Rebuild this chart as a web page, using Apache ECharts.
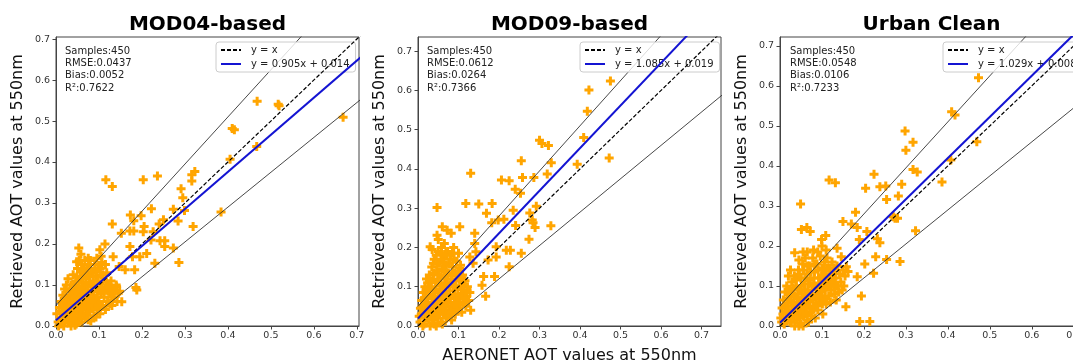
<!DOCTYPE html>
<html>
<head>
<meta charset="utf-8">
<script src="https://cdn.jsdelivr.net/npm/echarts@6/dist/echarts.min.js"></script>
<style>
html, body { margin: 0; padding: 0; background: #fff; }
#main { width: 1073px; height: 364px; }
</style>
</head>
<body>
<div id="main"></div>
<script>
// panel titles, stats and fits
var panelTitles = ['MOD04-based', 'MOD09-based', 'Urban Clean'];
var statLines = [
	['Samples:450', 'RMSE:0.0437', 'Bias:0.0052', 'R\u00b2:0.7622'],
	['Samples:450', 'RMSE:0.0612', 'Bias:0.0264', 'R\u00b2:0.7366'],
	['Samples:450', 'RMSE:0.0548', 'Bias:0.0106', 'R\u00b2:0.7233']
];
var fitSlope = [0.905, 1.085, 1.029];
var fitIntercept = [0.014, 0.019, 0.008];
var fitNames = ['y = 0.905x + 0.014', 'y = 1.085x + 0.019', 'y = 1.029x + 0.008'];
var eeConst = 0.05, eeSlope = 0.15;
var tickValues = [0, 0.1, 0.2, 0.3, 0.4, 0.5, 0.6, 0.7];
var axisMax = [[0.705, 0.705], [0.748, 0.736], [0.722, 0.722]];

// MOD04-based: [AERONET, retrieved]
var mod04Points = [
	[0.468,0.548],[0.517,0.541],[0.519,0.537],[0.668,0.509],[0.41,0.482],[0.415,0.479],[0.405,0.407],[0.467,0.438],
	[0.116,0.357],[0.131,0.34],[0.203,0.357],[0.236,0.366],[0.316,0.369],[0.323,0.377],[0.316,0.354],[0.291,0.335],
	[0.295,0.313],[0.299,0.282],[0.273,0.285],[0.384,0.278],[0.131,0.249],[0.173,0.271],[0.222,0.286],[0.24,0.249],
	[0.25,0.259],[0.284,0.256],[0.319,0.243],[0.198,0.269],[0.181,0.257],[0.205,0.243],[0.152,0.226],[0.172,0.232],
	[0.181,0.232],[0.203,0.23],[0.226,0.23],[0.221,0.21],[0.242,0.208],[0.253,0.194],[0.273,0.19],[0.253,0.208],
	[0.211,0.177],[0.195,0.169],[0.23,0.153],[0.286,0.155],[0.172,0.194],[0.178,0.169],[0.183,0.137],[0.161,0.137],
	[0.053,0.19],[0.048,0.157],[0.114,0.2],[0.102,0.186],[0.133,0.169],[0.147,0.145],[0.186,0.094],[0.188,0.088],
	[0.153,0.059],[0.145,0.08],[0.141,0.096],[0.129,0.08],
	[0.005,0.01],[0.01,0.02],[0.012,0.005],[0.015,0.035],[0.018,0.05],[0.02,0.012],[0.022,0.028],[0.025,0.065],
	[0.026,0.042],[0.028,0.008],[0.03,0.02],[0.03,0.055],[0.032,0.085],[0.034,0.035],[0.035,0.1],[0.036,0.07],
	[0.038,0.015],[0.04,0.045],[0.04,0.125],[0.042,0.06],[0.043,0.09],[0.045,0.03],[0.046,0.11],[0.047,0.005],
	[0.048,0.075],[0.05,0.05],[0.05,0.14],[0.052,0.02],[0.053,0.095],[0.054,0.16],[0.055,0.065],[0.056,0.035],
	[0.057,0.12],[0.058,0.08],[0.06,0.01],[0.06,0.15],[0.061,0.045],[0.062,0.105],[0.063,0.13],[0.064,0.06],
	[0.065,0.025],[0.066,0.09],[0.067,0.16],[0.068,0.07],[0.07,0.04],[0.07,0.115],[0.072,0.14],[0.073,0.055],
	[0.074,0.1],[0.075,0.015],[0.076,0.08],[0.078,0.125],[0.079,0.035],[0.08,0.16],[0.08,0.065],[0.082,0.095],
	[0.083,0.045],[0.085,0.13],[0.086,0.11],[0.087,0.075],[0.088,0.025],[0.09,0.15],[0.09,0.055],[0.092,0.09],
	[0.094,0.12],[0.095,0.04],[0.096,0.07],[0.098,0.14],[0.1,0.1],[0.1,0.06],[0.102,0.03],[0.104,0.125],
	[0.105,0.08],[0.107,0.155],[0.108,0.05],[0.11,0.11],[0.112,0.07],[0.114,0.09],[0.115,0.04],[0.118,0.13],
	[0.12,0.06],[0.122,0.1],[0.125,0.08],[0.128,0.11],[0.13,0.05],[0.133,0.09],[0.135,0.07],[0.14,0.1],
	[0.142,0.06],[0.148,0.085],[0.002,0.03],[0.008,0.045],[0.012,0.06],[0.016,0.075],[0.02,0.09],[0.024,0.1],
	[0.028,0.115],[0.006,0.0],[0.018,0.0],[0.035,0.0],[0.044,0.002],[0.015,0.018],[0.025,0.03],[0.033,0.048],
	[0.041,0.022],[0.049,0.038],[0.057,0.052],[0.063,0.04],[0.071,0.028],[0.081,0.012],[0.093,0.022],[0.058,0.175],
	[0.075,0.165],[0.095,0.165],[0.115,0.15],[0.105,0.17],
	[0.015,0.045],[0.02,0.06],[0.023,0.075],[0.027,0.05],[0.031,0.065],[0.034,0.09],[0.037,0.055],[0.039,0.08],
	[0.041,0.1],[0.044,0.07],[0.046,0.085],[0.049,0.12],[0.051,0.065],[0.054,0.11],[0.056,0.09],[0.059,0.135],
	[0.061,0.075],[0.063,0.115],[0.066,0.14],[0.068,0.1],[0.071,0.085],[0.073,0.125],[0.076,0.15],[0.078,0.105],
	[0.081,0.14],[0.084,0.085],[0.087,0.12],[0.089,0.1],[0.091,0.065],[0.093,0.135],[0.097,0.11],[0.099,0.085],
	[0.103,0.14],[0.106,0.095],[0.109,0.125],[0.111,0.085],[0.117,0.11],[0.121,0.085],[0.126,0.095],[0.131,0.07],
	[0.022,0.015],[0.027,0.025],[0.033,0.01],[0.039,0.03],[0.043,0.015],[0.053,0.01],[0.058,0.025],[0.067,0.05],
	[0.077,0.05],[0.085,0.06],[0.097,0.05],[0.103,0.045],[0.117,0.05],[0.125,0.055],[0.138,0.085]
];

// MOD09-based
var mod09Points = [
	[0.475,0.624],[0.422,0.601],[0.418,0.547],[0.409,0.48],[0.472,0.428],[0.393,0.412],[0.3,0.473],[0.306,0.465],
	[0.322,0.46],[0.329,0.416],[0.255,0.421],[0.319,0.387],[0.13,0.389],[0.206,0.372],[0.225,0.37],[0.258,0.378],
	[0.286,0.378],[0.24,0.348],[0.253,0.338],[0.118,0.312],[0.15,0.311],[0.183,0.312],[0.047,0.302],[0.169,0.287],
	[0.182,0.263],[0.198,0.27],[0.212,0.272],[0.235,0.295],[0.241,0.256],[0.276,0.288],[0.282,0.27],[0.292,0.305],
	[0.284,0.263],[0.289,0.251],[0.328,0.255],[0.274,0.221],[0.255,0.185],[0.225,0.151],[0.218,0.193],[0.228,0.193],
	[0.193,0.202],[0.193,0.176],[0.173,0.168],[0.162,0.126],[0.158,0.104],[0.167,0.076],[0.189,0.126],[0.136,0.16],
	[0.103,0.253],[0.082,0.236],[0.072,0.244],[0.047,0.231],[0.06,0.253],[0.03,0.202],[0.14,0.236],[0.14,0.21],
	[0.143,0.189],[0.103,0.147],[0.128,0.176],
	[0.005,0.01],[0.008,0.03],[0.01,0.05],[0.012,0.0],[0.015,0.07],[0.018,0.02],[0.02,0.09],[0.022,0.04],
	[0.024,0.11],[0.025,0.06],[0.027,0.015],[0.028,0.13],[0.03,0.08],[0.032,0.035],[0.033,0.1],[0.034,0.15],
	[0.036,0.055],[0.038,0.12],[0.04,0.005],[0.04,0.17],[0.042,0.075],[0.043,0.095],[0.045,0.025],[0.046,0.14],
	[0.048,0.06],[0.05,0.11],[0.05,0.19],[0.052,0.04],[0.053,0.16],[0.055,0.085],[0.056,0.125],[0.057,0.01],
	[0.058,0.2],[0.06,0.065],[0.06,0.145],[0.062,0.1],[0.063,0.03],[0.064,0.175],[0.065,0.05],[0.066,0.12],
	[0.068,0.08],[0.07,0.155],[0.07,0.02],[0.072,0.11],[0.073,0.19],[0.074,0.06],[0.075,0.135],[0.076,0.04],
	[0.078,0.09],[0.08,0.17],[0.08,0.07],[0.082,0.12],[0.083,0.015],[0.085,0.15],[0.086,0.05],[0.087,0.1],
	[0.088,0.2],[0.09,0.08],[0.09,0.135],[0.092,0.03],[0.094,0.115],[0.095,0.165],[0.096,0.06],[0.098,0.095],
	[0.1,0.14],[0.1,0.045],[0.102,0.12],[0.104,0.075],[0.105,0.155],[0.107,0.1],[0.108,0.035],[0.11,0.13],
	[0.112,0.06],[0.114,0.09],[0.116,0.115],[0.118,0.05],[0.12,0.075],[0.122,0.1],[0.125,0.065],[0.128,0.085],
	[0.13,0.04],[0.003,0.025],[0.006,0.045],[0.009,0.065],[0.013,0.085],[0.017,0.1],[0.021,0.12],[0.015,0.005],
	[0.03,0.0],[0.045,0.0],[0.06,0.005],[0.02,0.03],[0.035,0.045],[0.047,0.035],[0.055,0.045],[0.067,0.035],
	[0.078,0.025],[0.093,0.045],[0.065,0.21],[0.045,0.18],[0.085,0.185],[0.1,0.185],[0.038,0.16],[0.05,0.22],
	[0.035,0.195],
	[0.015,0.04],[0.019,0.055],[0.023,0.075],[0.026,0.095],[0.029,0.045],[0.031,0.115],[0.034,0.07],[0.037,0.09],
	[0.039,0.135],[0.041,0.05],[0.044,0.11],[0.046,0.16],[0.049,0.085],[0.051,0.13],[0.054,0.07],[0.057,0.105],
	[0.059,0.17],[0.061,0.085],[0.064,0.14],[0.067,0.1],[0.069,0.185],[0.071,0.075],[0.073,0.13],[0.076,0.16],
	[0.079,0.105],[0.081,0.05],[0.084,0.13],[0.087,0.08],[0.089,0.17],[0.091,0.1],[0.093,0.06],[0.097,0.13],
	[0.099,0.075],[0.103,0.1],[0.106,0.125],[0.109,0.08],[0.113,0.105],[0.117,0.07],[0.121,0.09],[0.024,0.02],
	[0.029,0.03],[0.036,0.015],[0.041,0.035],[0.049,0.02],[0.054,0.03],[0.062,0.045],[0.069,0.05],[0.074,0.025],
	[0.084,0.035],[0.089,0.055],[0.097,0.04],[0.104,0.055],[0.063,0.16],[0.058,0.185],[0.079,0.18]
];

// Urban Clean
var urbanPoints = [
	[0.473,0.62],[0.409,0.535],[0.417,0.527],[0.469,0.46],[0.407,0.415],[0.298,0.487],[0.3,0.439],[0.317,0.459],
	[0.317,0.391],[0.327,0.385],[0.386,0.36],[0.323,0.238],[0.117,0.365],[0.132,0.358],[0.204,0.344],[0.224,0.379],
	[0.238,0.348],[0.252,0.35],[0.254,0.316],[0.282,0.325],[0.29,0.354],[0.049,0.305],[0.051,0.241],[0.064,0.246],
	[0.072,0.236],[0.15,0.261],[0.18,0.284],[0.17,0.255],[0.184,0.246],[0.207,0.236],[0.189,0.216],[0.232,0.218],
	[0.238,0.208],[0.27,0.273],[0.274,0.269],[0.28,0.269],[0.254,0.166],[0.228,0.173],[0.223,0.132],[0.286,0.161],
	[0.202,0.155],[0.184,0.123],[0.194,0.075],[0.157,0.048],[0.109,0.226],[0.099,0.216],[0.136,0.194],[0.035,0.183],
	[0.158,0.148],[0.162,0.136],[0.19,0.011],[0.214,0.011],[0.146,0.173],
	[0.004,0.01],[0.007,0.03],[0.01,0.005],[0.012,0.05],[0.015,0.02],[0.018,0.07],[0.02,0.04],[0.022,0.09],
	[0.024,0.01],[0.026,0.06],[0.028,0.11],[0.03,0.03],[0.032,0.08],[0.034,0.125],[0.036,0.05],[0.038,0.1],
	[0.04,0.015],[0.042,0.07],[0.044,0.14],[0.046,0.04],[0.048,0.09],[0.05,0.12],[0.05,0.005],[0.052,0.06],
	[0.054,0.155],[0.056,0.025],[0.058,0.105],[0.06,0.075],[0.06,0.17],[0.062,0.045],[0.064,0.13],[0.066,0.09],
	[0.068,0.01],[0.07,0.06],[0.07,0.15],[0.072,0.115],[0.074,0.035],[0.076,0.08],[0.078,0.17],[0.08,0.1],
	[0.08,0.05],[0.082,0.135],[0.084,0.02],[0.086,0.07],[0.088,0.155],[0.09,0.09],[0.09,0.04],[0.092,0.12],
	[0.094,0.06],[0.096,0.175],[0.098,0.1],[0.1,0.145],[0.1,0.075],[0.102,0.03],[0.104,0.115],[0.106,0.16],
	[0.108,0.09],[0.11,0.055],[0.11,0.13],[0.112,0.17],[0.114,0.1],[0.116,0.075],[0.118,0.145],[0.12,0.12],
	[0.12,0.06],[0.122,0.09],[0.124,0.16],[0.126,0.135],[0.128,0.1],[0.13,0.08],[0.132,0.12],[0.134,0.065],
	[0.136,0.15],[0.138,0.1],[0.14,0.085],[0.142,0.13],[0.145,0.11],[0.148,0.09],[0.15,0.14],[0.152,0.1],
	[0.155,0.125],[0.002,0.02],[0.005,0.045],[0.008,0.065],[0.012,0.085],[0.016,0.1],[0.02,0.125],[0.025,0.02],
	[0.035,0.0],[0.045,0.0],[0.055,0.0],[0.065,0.015],[0.03,0.05],[0.042,0.03],[0.055,0.04],[0.064,0.055],
	[0.075,0.025],[0.045,0.165],[0.065,0.185],[0.09,0.185],[0.11,0.19],[0.055,0.185],[0.08,0.19],[0.025,0.14],
	[0.1,0.2],
	[0.014,0.035],[0.018,0.05],[0.021,0.065],[0.025,0.08],[0.028,0.04],[0.031,0.095],[0.033,0.06],[0.036,0.075],
	[0.039,0.115],[0.041,0.05],[0.043,0.09],[0.046,0.13],[0.049,0.065],[0.051,0.1],[0.053,0.08],[0.056,0.14],
	[0.059,0.09],[0.061,0.12],[0.063,0.07],[0.066,0.15],[0.068,0.105],[0.071,0.08],[0.073,0.135],[0.076,0.1],
	[0.079,0.065],[0.081,0.12],[0.083,0.155],[0.086,0.1],[0.089,0.075],[0.091,0.14],[0.094,0.105],[0.097,0.085],
	[0.099,0.125],[0.103,0.095],[0.105,0.14],[0.107,0.07],[0.109,0.11],[0.113,0.145],[0.115,0.12],[0.119,0.1],
	[0.123,0.11],[0.127,0.12],[0.129,0.145],[0.133,0.1],[0.022,0.02],[0.027,0.01],[0.033,0.025],[0.038,0.04],
	[0.047,0.02],[0.052,0.035],[0.058,0.05],[0.063,0.03],[0.071,0.045],[0.078,0.04],[0.087,0.05],[0.093,0.075],
	[0.101,0.055],[0.104,0.065]
];
var panelPoints = [mod04Points, mod09Points, urbanPoints];

var FONT = 'DejaVu Sans';
var plusSymbol = 'path://M3,0H6V3H9V6H6V9H3V6H0V3H3Z';

var grids = [
	{left: 56, right: 714, top: 37, bottom: 38},
	{left: 418, right: 352, top: 37, bottom: 38},
	{left: 780, right: -10, top: 37, bottom: 38}
];
var legendLeft = [216, 580, 943];
var statsLeft = [65, 427, 790];

var chart = echarts.init(document.getElementById('main'));

var xAxes = [], yAxes = [], series = [], legends = [], graphics = [];

function fmt(v) { return v.toFixed(1); }

for (var i = 0; i < 3; i++) {
	grids[i].show = true;
	grids[i].borderColor = '#444';
	grids[i].borderWidth = 1;
	grids[i].containLabel = false;
	grids[i].outerBoundsMode = 'none';

	xAxes.push({
		type: 'value', gridIndex: i, min: 0, max: axisMax[i][0],
		name: i === 1 ? 'AERONET AOT values at 550nm' : '',
		nameLocation: 'middle', nameGap: 22,
		nameTextStyle: {fontFamily: FONT, fontSize: 16, color: '#111'},
		axisLine: {show: true, lineStyle: {color: '#444'}},
		axisTick: {show: true, length: 3.5, lineStyle: {color: '#444'}, customValues: tickValues},
		axisLabel: {fontFamily: FONT, fontSize: 9.5, color: '#333', margin: 5, formatter: fmt, customValues: tickValues},
		splitLine: {show: false}
	});
	yAxes.push({
		type: 'value', gridIndex: i, min: 0, max: axisMax[i][1],
		name: 'Retrieved AOT values at 550nm',
		nameLocation: 'middle', nameGap: 30, nameRotate: 90,
		nameTextStyle: {fontFamily: FONT, fontSize: 16, color: '#111'},
		axisLine: {show: true, lineStyle: {color: '#444'}},
		axisTick: {show: true, length: 3.5, lineStyle: {color: '#444'}, customValues: tickValues},
		axisLabel: {fontFamily: FONT, fontSize: 9.5, color: '#333', margin: 6, formatter: fmt, customValues: tickValues},
		splitLine: {show: false}
	});

	series.push({
		type: 'scatter', xAxisIndex: i, yAxisIndex: i,
		data: panelPoints[i], symbol: plusSymbol, symbolSize: 9,
		itemStyle: {color: '#ffa500', opacity: 1}, z: 2, silent: true
	});
	series.push({
		name: 'upper' + i, type: 'line', xAxisIndex: i, yAxisIndex: i,
		data: [[0, eeConst], [1, 1 + eeConst + eeSlope]], symbol: 'none', clip: true,
		lineStyle: {color: '#333', width: 0.9}, z: 3, silent: true
	});
	series.push({
		name: 'lower' + i, type: 'line', xAxisIndex: i, yAxisIndex: i,
		data: [[0, -eeConst], [1, 1 - eeConst - eeSlope]], symbol: 'none', clip: true,
		lineStyle: {color: '#333', width: 0.9}, z: 3, silent: true
	});
	series.push({
		name: 'y = x', type: 'line', xAxisIndex: i, yAxisIndex: i,
		data: [[0, 0], [1, 1]], symbol: 'none', clip: true,
		itemStyle: {color: '#000'},
		lineStyle: {color: '#000', width: 1.2, type: [4, 2]}, z: 4, silent: true
	});
	series.push({
		name: fitNames[i], type: 'line', xAxisIndex: i, yAxisIndex: i,
		data: [[0, fitIntercept[i]], [1, fitSlope[i] + fitIntercept[i]]], symbol: 'none', clip: true,
		itemStyle: {color: '#1414d2'},
		lineStyle: {color: '#1414d2', width: 2}, z: 5, silent: true
	});

	legends.push({
		left: legendLeft[i], top: 42, orient: 'vertical',
		data: ['y = x', fitNames[i]],
		itemWidth: 20, itemHeight: 11, itemGap: 4,
		padding: [3, 6, 3, 4],
		backgroundColor: 'rgba(255,255,255,0.8)',
		borderColor: '#ccc', borderWidth: 1, borderRadius: 3,
		selectedMode: false,
		itemStyle: {opacity: 0},
		textStyle: {fontFamily: FONT, fontSize: 10, color: '#222', padding: [0, 0, 0, 5]}
	});

	var g = grids[i];
	var plotRight = 1073 - g.right;
	graphics.push({
		type: 'text', x: (g.left + plotRight) / 2, y: 25,
		style: {text: panelTitles[i], font: 'bold 20px "DejaVu Sans"', fill: '#000',
			textAlign: 'center', textVerticalAlign: 'middle'}
	});
	graphics.push({
		type: 'text', x: statsLeft[i], y: 45,
		style: {text: statLines[i].join('\n'), font: '10px "DejaVu Sans"', fill: '#222',
			lineHeight: 12.3, textAlign: 'left', textVerticalAlign: 'top'}
	});
}

var option = {
	animation: false,
	backgroundColor: '#fff',
	grid: grids,
	xAxis: xAxes,
	yAxis: yAxes,
	legend: legends,
	series: series,
	graphic: graphics
};
chart.setOption(option);
</script>
</body>
</html>
